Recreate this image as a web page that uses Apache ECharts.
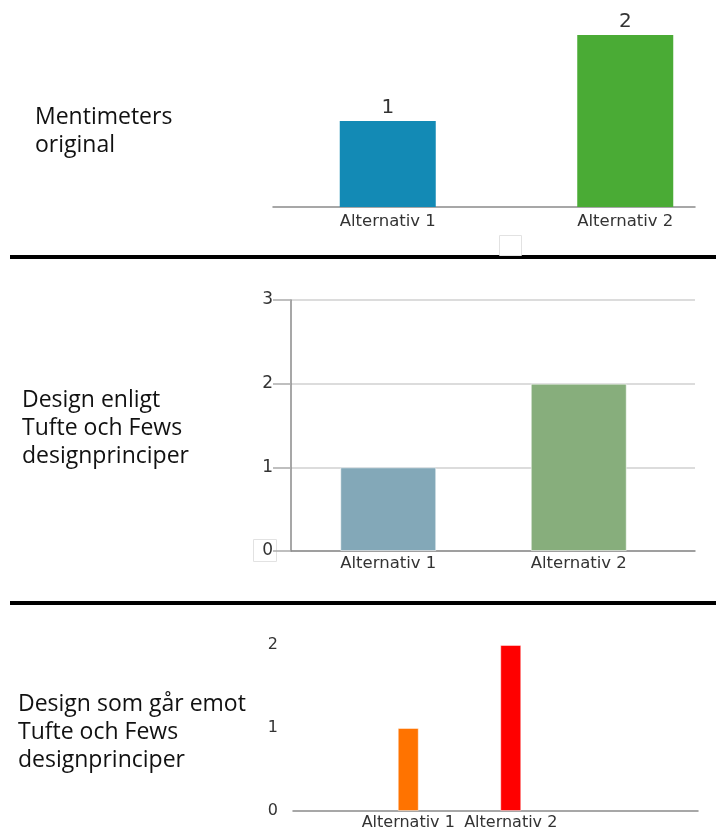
<!DOCTYPE html>
<html>
<head>
<meta charset="utf-8">
<script src="https://cdn.jsdelivr.net/npm/echarts@6/dist/echarts.min.js"></script>
<style>
  html, body { margin: 0; padding: 0; background: #fff; }
  #chart { width: 716px; height: 832px; }
</style>
</head>
<body>
<div id="chart"></div>
<script>
// Poll answers shown three times, each in a different visual style
const categories = ['Alternativ 1', 'Alternativ 2'];
const votes = [1, 2];
const panelTitles = [
  'Mentimeters\noriginal',
  'Design enligt\nTufte och Fews\ndesignprinciper',
  'Design som går emot\nTufte och Fews\ndesignprinciper'
];
const scaleMax = [2, 3, 2];

const colorsMenti = ['#138ab5', '#4aab35'];
const colorsTufte = ['#83a8b8', '#87ae7c'];
const colorsLoud = ['#ff7300', '#ff0000'];

const labelFont = 'DejaVu Sans, Verdana, sans-serif';
const titleFont = 'Open Sans, Noto Sans, sans-serif';
const axisGray = '#8a8a8a';
const textGray = '#333';

const chart = echarts.init(document.getElementById('chart'));

function coloured(cols) {
  return votes.map((v, i) => ({ value: v, itemStyle: { color: cols[i] } }));
}

function hiddenValueX(gridIndex, showLine) {
  return {
    type: 'value', gridIndex, min: 0, max: 1,
    axisLine: { show: showLine, onZero: false, lineStyle: { color: axisGray, width: 1.5 } },
    axisTick: { show: false }, axisLabel: { show: false }, splitLine: { show: false }
  };
}

function hiddenValueY(gridIndex, max) {
  return {
    type: 'value', gridIndex, min: 0, max, interval: 1,
    axisLine: { show: false }, axisTick: { show: false },
    axisLabel: { show: false }, splitLine: { show: false }
  };
}

function categoryX(gridIndex, fontSize, margin) {
  return {
    type: 'category', gridIndex, data: categories,
    axisLine: { show: false }, axisTick: { show: false },
    axisLabel: {
      color: textGray, fontFamily: labelFont, fontSize, margin,
      interval: 0, hideOverlap: false
    }
  };
}

const option = {
  animation: false,
  backgroundColor: '#fff',
  title: panelTitles.map((t, i) => ({
    text: t,
    left: [35, 22, 18][i],
    top: [103, 386, 690][i],
    padding: 0,
    textStyle: {
      fontFamily: titleFont, fontSize: 23, fontWeight: 'normal',
      color: '#111', lineHeight: 28
    }
  })),
  grid: [
    // panel 1: baseline frame + bars
    { left: 273, right: 21, top: 35, height: 172, outerBoundsMode: 'none' },
    { left: 269, width: 475, top: 35, height: 172, outerBoundsMode: 'none' },
    // panel 2: axes/gridlines frame + bars
    { left: 291, right: 21, top: 300, height: 251, outerBoundsMode: 'none' },
    { left: 293, width: 381, top: 300, height: 251, outerBoundsMode: 'none' },
    // panel 3: baseline frame + bars
    { left: 293, right: 18, top: 645, height: 166, outerBoundsMode: 'none' },
    { left: 357, width: 205, top: 645, height: 166, outerBoundsMode: 'none' }
  ],
  xAxis: [
    hiddenValueX(0, true),
    categoryX(1, 16.5, 6),
    hiddenValueX(2, true),
    categoryX(3, 16.5, 4),
    hiddenValueX(4, true),
    categoryX(5, 16, 4)
  ],
  yAxis: [
    hiddenValueY(0, scaleMax[0]),
    hiddenValueY(1, scaleMax[0]),
    {
      type: 'value', gridIndex: 2, min: 0, max: scaleMax[1], interval: 1,
      axisLine: { show: true, lineStyle: { color: axisGray, width: 1.5 } },
      axisTick: { show: true, length: 18, lineStyle: { color: '#aaa', width: 1.5 } },
      axisLabel: { color: textGray, fontFamily: labelFont, fontSize: 17, margin: 18 },
      splitLine: { show: true, lineStyle: { color: '#dcdcdc', width: 2 } }
    },
    hiddenValueY(3, scaleMax[1]),
    {
      type: 'value', gridIndex: 4, min: 0, max: scaleMax[2], interval: 1,
      axisLine: { show: false }, axisTick: { show: false },
      axisLabel: {
        color: textGray, fontFamily: labelFont, fontSize: 16, margin: 15,
        padding: [0, 0, 7, 0]
      },
      splitLine: { show: false }
    },
    hiddenValueY(5, scaleMax[2])
  ],
  graphic: [
    // section dividers
    { type: 'rect', shape: { x: 10, y: 255, width: 706, height: 4 }, style: { fill: '#000' } },
    { type: 'rect', shape: { x: 10, y: 601, width: 706, height: 4 }, style: { fill: '#000' } },
    // faint boxes left over in the layout
    { type: 'rect', shape: { x: 499.5, y: 235.5, width: 22, height: 20 },
      style: { fill: 'none', stroke: '#e2e2e2', lineWidth: 1 } },
    { type: 'rect', shape: { x: 253.5, y: 539.5, width: 23, height: 22 },
      style: { fill: 'none', stroke: '#e2e2e2', lineWidth: 1 } }
  ],
  series: [
    {
      type: 'bar', xAxisIndex: 1, yAxisIndex: 1, barWidth: 96,
      data: coloured(colorsMenti),
      label: {
        show: true, position: 'top', distance: 3,
        color: textGray, fontFamily: labelFont, fontSize: 20
      }
    },
    {
      type: 'bar', xAxisIndex: 3, yAxisIndex: 3, barWidth: 96,
      data: coloured(colorsTufte),
      itemStyle: { borderColor: 'rgba(255,255,255,0.55)', borderWidth: 1 }
    },
    {
      type: 'bar', xAxisIndex: 5, yAxisIndex: 5, barWidth: 21,
      data: coloured(colorsLoud),
      itemStyle: { borderColor: 'rgba(255,255,255,0.45)', borderWidth: 1 }
    }
  ]
};

chart.setOption(option);
</script>
</body>
</html>
